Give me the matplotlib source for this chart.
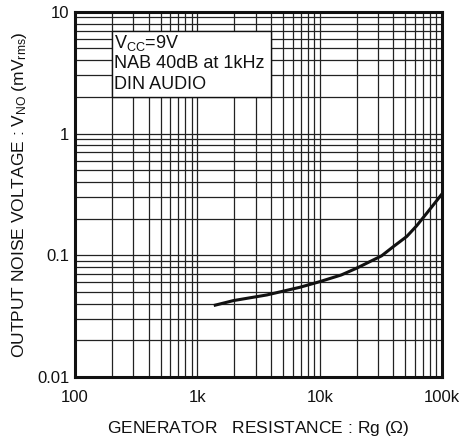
import matplotlib
matplotlib.use('Agg')
import matplotlib.pyplot as plt
from matplotlib.patches import Rectangle
from matplotlib.ticker import LogLocator, NullFormatter

plt.rcParams['font.family'] = ['Liberation Sans', 'DejaVu Sans']
plt.rcParams['mathtext.fontset'] = 'custom'
plt.rcParams['mathtext.rm'] = 'Liberation Sans'
plt.rcParams['mathtext.it'] = 'Liberation Sans'

# Curve (generator resistance in ohm, noise in mVrms)
rg = [1400, 1970, 3700, 6900, 10000, 15000, 20000, 32000, 40000, 51500,
      62000, 75000, 87000, 100000]
vno = [0.039, 0.0425, 0.0473, 0.0547, 0.0608, 0.069, 0.0784, 0.099, 0.118,
       0.143, 0.175, 0.222, 0.268, 0.32]

x_ticks = [100, 1000, 10000, 100000]
x_labels = ['100', '1k', '10k', '100k']
y_ticks = [0.01, 0.1, 1, 10]
y_labels = ['0.01', '0.1', '1', '10']

box_lines = ['V$_{\\rm CC}$=9V', 'NAB 40dB at 1kHz', 'DIN AUDIO']

fig = plt.figure(figsize=(4.6, 4.38), dpi=100)
ax = fig.add_axes([0.163, 0.139, 0.798, 0.834])

ax.set_xscale('log')
ax.set_yscale('log')
ax.set_xlim(100, 100000)
ax.set_ylim(0.01, 10)

ax.set_xticks(x_ticks)
ax.set_xticklabels(x_labels)
ax.set_yticks(y_ticks)
ax.set_yticklabels(y_labels)
ax.xaxis.set_minor_locator(LogLocator(base=10, subs=range(2, 10)))
ax.yaxis.set_minor_locator(LogLocator(base=10, subs=range(2, 10)))
ax.xaxis.set_minor_formatter(NullFormatter())
ax.yaxis.set_minor_formatter(NullFormatter())
ax.tick_params(which='both', length=0, labelsize=12, colors='#111')
ax.tick_params(axis='x', pad=9)
ax.tick_params(axis='y', pad=4)

ax.grid(which='both', color='#222', linewidth=0.9)
ax.set_axisbelow(True)
for s in ax.spines.values():
    s.set_linewidth(2.2)
    s.set_color('#111')

ax.plot(rg, vno, color='#111', linewidth=2.2, zorder=3)

# condition box
ax.add_patch(Rectangle((200, 2), 4000 - 200, 7 - 2, facecolor='white',
                       edgecolor='#111', linewidth=1.0, zorder=2.5))
for i, line in enumerate(box_lines):
    ax.text(0.107, 0.916 - 0.058 * i, line, transform=ax.transAxes,
            fontsize=13, va='center', ha='left', color='#111', zorder=4)

ax.set_xlabel('GENERATOR   RESISTANCE : Rg ($\\Omega$)', fontsize=12.5,
              labelpad=10, color='#111')
ax.set_ylabel('OUTPUT NOISE VOLTAGE : V$_{\\rm NO}$ (mV$_{\\rm rms}$)',
              fontsize=12.5, labelpad=6, color='#111')

fig.savefig('out.png', dpi=100)
